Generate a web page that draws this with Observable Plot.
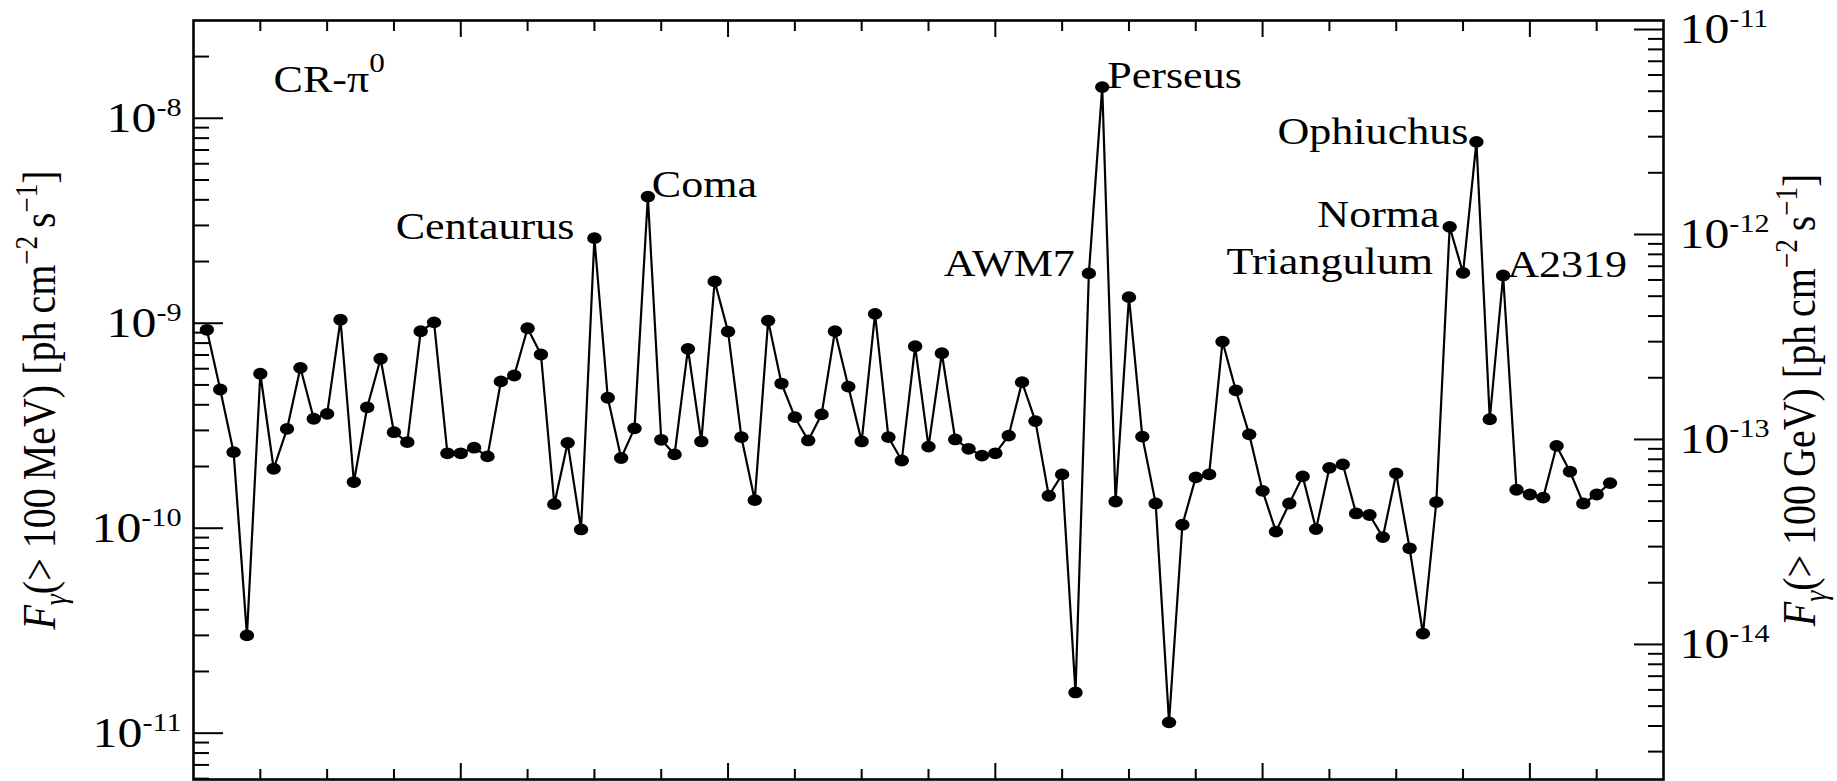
<!DOCTYPE html>
<html>
<head>
<meta charset="utf-8">
<script src="https://cdn.jsdelivr.net/npm/d3@7"></script>
<script src="https://cdn.jsdelivr.net/npm/@observablehq/plot@0.6"></script>
<style>
  html, body { margin: 0; padding: 0; background: #ffffff; }
  #chart svg { display: block; }
</style>
</head>
<body>
<div id="chart"></div>
<script>
// ---------------- data ----------------
// F_gamma(>100 MeV) per cluster, in catalogue order (cluster number 1..106)
const flux = [
  9.29e-10, 4.75e-10, 2.35e-10, 3.0e-11, 5.67e-10, 1.95e-10, 3.05e-10, 6.06e-10, 3.42e-10, 3.61e-10,
  1.04e-9, 1.68e-10, 3.89e-10, 6.71e-10, 2.94e-10, 2.63e-10, 9.14e-10, 1.01e-9, 2.32e-10, 2.32e-10,
  2.47e-10, 2.24e-10, 5.20e-10, 5.56e-10, 9.45e-10, 7.04e-10, 1.31e-10, 2.61e-10, 9.86e-11, 2.60e-9,
  4.33e-10, 2.20e-10, 3.07e-10, 4.15e-9, 2.70e-10, 2.29e-10, 7.50e-10, 2.65e-10, 1.60e-9, 9.11e-10,
  2.78e-10, 1.37e-10, 1.03e-9, 5.08e-10, 3.48e-10, 2.68e-10, 3.59e-10, 9.14e-10, 4.91e-10, 2.65e-10,
  1.11e-9, 2.78e-10, 2.14e-10, 7.72e-10, 2.50e-10, 7.14e-10, 2.71e-10, 2.44e-10, 2.26e-10, 2.32e-10,
  2.83e-10, 5.16e-10, 3.33e-10, 1.44e-10, 1.83e-10, 1.58e-11, 1.75e-9, 1.42e-8, 1.35e-10, 1.34e-9,
  2.80e-10, 1.32e-10, 1.13e-11, 1.04e-10, 1.77e-10, 1.83e-10, 8.14e-10, 4.70e-10, 2.87e-10, 1.52e-10,
  9.63e-11, 1.32e-10, 1.79e-10, 9.90e-11, 1.97e-10, 2.05e-10, 1.18e-10, 1.16e-10, 9.05e-11, 1.85e-10,
  7.98e-11, 3.06e-11, 1.34e-10, 2.95e-9, 1.76e-9, 7.67e-9, 3.40e-10, 1.71e-9, 1.54e-10, 1.46e-10,
  1.41e-10, 2.52e-10, 1.89e-10, 1.32e-10, 1.46e-10, 1.66e-10
];
const clusterNames = ["Centaurus", "Coma", "AWM7", "Perseus", "Norma", "Triangulum", "Ophiuchus", "A2319"];
const clusterIndex = [30, 34, 67, 68, 94, 95, 96, 98];

const panelTitle = "CR-π^{0}";
const leftAxisTitle = "*F*_{*γ*}(> 100\u2009MeV) [ph\u2009cm^{−2}\u2009s^{−1}]";
const rightAxisTitle = "*F*_{*γ*}(> 100\u2009GeV) [ph\u2009cm^{−2}\u2009s^{−1}]";

const xLimits = [0, 110];
const xMajorTicks = [20, 40, 60, 80, 100];
const xMinorTicks = [5, 10, 15, 25, 30, 35, 45, 50, 55, 65, 70, 75, 85, 90, 95, 105];
const yLimits = [10 ** -11.226, 10 ** -7.523];
const leftTickValues = [1e-11, 1e-10, 1e-9, 1e-8];
const rightTickValues = [1e-14, 1e-13, 1e-12, 1e-11];
const rightPerLeft = 10 ** -3.433;   // F(>100 GeV) / F(>100 MeV), ratio of the two axes

// ---------------- layout / style (kept apart from data) ----------------
const labelPlacement = {
  Centaurus:  {anchor: "end",   dx: -20, dy: -11},
  Coma:       {anchor: "start", dx: 4,   dy: -12},
  AWM7:       {anchor: "end",   dx: -14, dy: -10},
  Perseus:    {anchor: "start", dx: 5,   dy: -11},
  Norma:      {anchor: "end",   dx: -10, dy: -12},
  Triangulum: {anchor: "end",   dx: -30, dy: -11},
  Ophiuchus:  {anchor: "end",   dx: -8,  dy: -10},
  A2319:      {anchor: "start", dx: 4,   dy: -11}
};
const serif = "'Liberation Serif', 'Times New Roman', Times, serif";
const stretch = 1.16;

// minor log ticks inside a domain
function minorLogTicks([lo, hi]) {
  const out = [];
  for (let e = Math.floor(Math.log10(lo)); e <= Math.ceil(Math.log10(hi)); e++) {
    for (let m = 2; m <= 9; m++) {
      const v = m * 10 ** e;
      if (v > lo && v < hi) out.push(v);
    }
  }
  return out;
}

// ---------------- rich text helpers ----------------
const svgNS = "http://www.w3.org/2000/svg";
function parseRich(s) {
  const segs = [];
  let italic = false, mode = null, buf = "";
  const flush = () => { if (buf) segs.push({text: buf, italic, sup: mode === "sup", sub: mode === "sub"}); buf = ""; };
  for (let i = 0; i < s.length; i++) {
    const c = s[i];
    if ((c === "^" || c === "_") && s[i + 1] === "{") { flush(); mode = c === "^" ? "sup" : "sub"; i++; }
    else if (c === "}" && mode) { flush(); mode = null; }
    else if (c === "*") { flush(); italic = !italic; }
    else buf += c;
  }
  flush();
  return segs;
}
function richRender({supSize = 24, supRise = 15, subSize = 26, subDrop = 8, rotated = false} = {}) {
  return (index, scales, values, dims, ctx, next) => {
    const g = next(index, scales, values, dims, ctx);
    for (const t of g.querySelectorAll("text")) {
      const src = t.textContent;
      t.textContent = "";
      let shift = 0;
      for (const seg of parseRich(src)) {
        const ts = document.createElementNS(svgNS, "tspan");
        const target = seg.sup ? supRise : seg.sub ? -subDrop : 0;
        if (target !== shift) { ts.setAttribute("dy", shift - target); shift = target; }
        if (seg.sup) ts.setAttribute("font-size", supSize);
        if (seg.sub) ts.setAttribute("font-size", subSize);
        if (seg.italic) ts.setAttribute("font-style", "italic");
        ts.textContent = seg.text;
        t.appendChild(ts);
      }
      const tr = t.getAttribute("transform") || "";
      t.setAttribute("transform", tr + (rotated ? ` scale(1,${stretch})` : ` scale(${stretch},1)`));
    }
    return g;
  };
}
// filled ellipse markers
function ellipseRender(index, scales, values, dims, ctx, next) {
  const g = next(index, scales, values, dims, ctx);
  for (const c of [...g.querySelectorAll("circle")]) {
    const e = document.createElementNS(svgNS, "ellipse");
    e.setAttribute("cx", c.getAttribute("cx"));
    e.setAttribute("cy", c.getAttribute("cy"));
    e.setAttribute("rx", 7.2);
    e.setAttribute("ry", 5.9);
    c.replaceWith(e);
  }
  return g;
}

// ---------------- build ----------------
const rows = flux.map((v, k) => ({n: k + 1, v}));
const rightDomain = yLimits.map(d => d * rightPerLeft);
const leftMinor = minorLogTicks(yLimits);
const rightMinor = minorLogTicks(rightDomain).map(d => d / rightPerLeft);
const rightMajor = rightTickValues.map(d => d / rightPerLeft);
const noText = () => "";

const labelMarks = clusterNames.map((name, j) => {
  const p = labelPlacement[name];
  return Plot.text([rows[clusterIndex[j] - 1]], {
    x: "n", y: "v", text: () => name,
    textAnchor: p.anchor, lineAnchor: "middle", dx: p.dx, dy: p.dy,
    fontSize: 38, fill: "black",
    render: richRender()
  });
});

const chart = Plot.plot({
  width: 1837,
  height: 781,
  marginLeft: 193,
  marginRight: 174,
  marginTop: 20,
  marginBottom: 2,
  x: {domain: xLimits},
  y: {type: "log", domain: yLimits},
  style: {fontFamily: serif, background: "white", color: "black", overflow: "visible"},
  marks: [
    // x ticks, bottom & top, pointing inwards
    Plot.axisX(xMinorTicks, {anchor: "bottom", tickSize: -10, strokeWidth: 2, tickFormat: noText, label: null}),
    Plot.axisX(xMajorTicks, {anchor: "bottom", tickSize: -16, strokeWidth: 2, tickFormat: noText, label: null}),
    Plot.axisX(xMinorTicks, {anchor: "top", tickSize: -10, strokeWidth: 2, tickFormat: noText, label: null}),
    Plot.axisX(xMajorTicks, {anchor: "top", tickSize: -16, strokeWidth: 2, tickFormat: noText, label: null}),
    // left axis ticks
    Plot.axisY(leftMinor, {anchor: "left", tickSize: -16, strokeWidth: 2, tickFormat: noText, label: null}),
    Plot.axisY(leftTickValues, {anchor: "left", tickSize: -30, strokeWidth: 2, tickFormat: noText, label: null}),
    // right axis ticks (100 GeV scale)
    Plot.axisY(rightMinor, {anchor: "right", tickSize: -16, strokeWidth: 2, tickFormat: noText, label: null}),
    Plot.axisY(rightMajor, {anchor: "right", tickSize: -30, strokeWidth: 2, tickFormat: noText, label: null}),
    Plot.frame({stroke: "black", strokeWidth: 2.6}),
    // tick labels
    Plot.text(leftTickValues, {
      y: d => d, text: d => `10^{${Math.round(Math.log10(d))}}`,
      frameAnchor: "left", textAnchor: "end", lineAnchor: "middle", dx: -12, fontSize: 43, fill: "black",
      render: richRender({supSize: 26, supRise: 16})
    }),
    Plot.text(rightTickValues, {
      y: d => d / rightPerLeft, text: d => `10^{${Math.round(Math.log10(d))}}`,
      frameAnchor: "right", textAnchor: "start", lineAnchor: "middle", dx: 16, fontSize: 43, fill: "black",
      render: richRender({supSize: 26, supRise: 16})
    }),
    // axis titles
    Plot.text([leftAxisTitle], {
      text: d => d, frameAnchor: "left", textAnchor: "middle", lineAnchor: "middle",
      rotate: -90, dx: -153, fontSize: 40, fill: "black",
      render: richRender({supSize: 27, supRise: 16, subSize: 28, subDrop: 9, rotated: true})
    }),
    Plot.text([rightAxisTitle], {
      text: d => d, frameAnchor: "right", textAnchor: "middle", lineAnchor: "middle",
      rotate: -90, dx: 137, fontSize: 40, fill: "black",
      render: richRender({supSize: 27, supRise: 16, subSize: 28, subDrop: 9, rotated: true})
    }),
    // panel title
    Plot.text([panelTitle], {
      text: d => d, frameAnchor: "top-left", textAnchor: "start", lineAnchor: "middle",
      dx: 80, dy: 59, fontSize: 38, fill: "black",
      render: richRender({supSize: 27, supRise: 20})
    }),
    // data
    Plot.line(rows, {x: "n", y: "v", stroke: "black", strokeWidth: 2.2}),
    Plot.dot(rows, {x: "n", y: "v", r: 6, fill: "black", stroke: "none", render: ellipseRender}),
    ...labelMarks
  ]
});
document.getElementById("chart").appendChild(chart);
</script>
</body>
</html>
